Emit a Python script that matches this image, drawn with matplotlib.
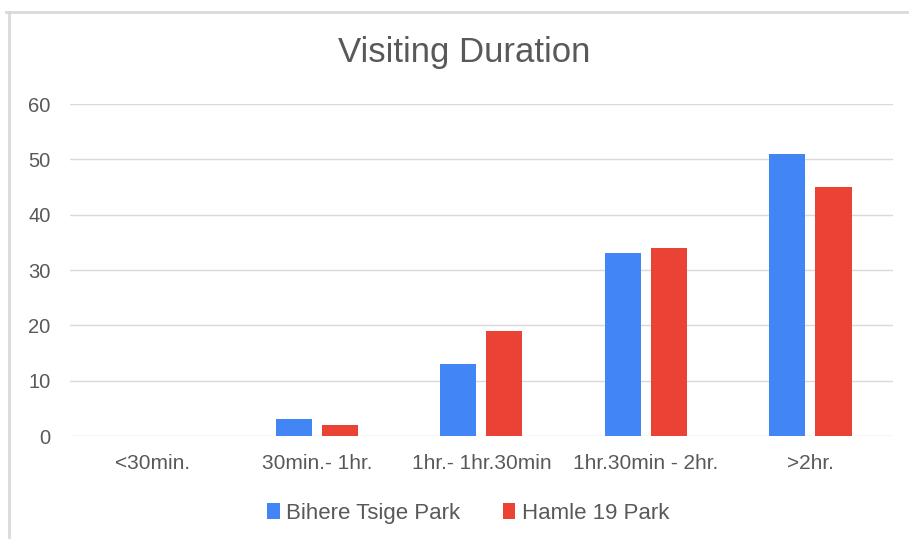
import numpy as np
import matplotlib.pyplot as plt
from matplotlib.lines import Line2D

categories = ['<30min.', '30min.- 1hr.', '1hr.- 1hr.30min', '1hr.30min - 2hr.', '>2hr.']
bihere = [0, 3, 13, 33, 51]
hamle = [0, 2, 19, 34, 45]

plt.rcParams['font.family'] = ['Liberation Sans', 'DejaVu Sans']

fig = plt.figure(figsize=(9.09, 5.39), dpi=100)
ax = fig.add_axes([0.077, 0.191, 0.905, 0.616])

x = np.arange(len(categories))
w = 0.22
ax.bar(x - 0.14, bihere, w, color='#4285F4', label='Bihere Tsige Park', zorder=3)
ax.bar(x + 0.14, hamle, w, color='#EA4335', label='Hamle 19 Park', zorder=3)

ax.set_xlim(-0.5, 4.5)
ax.set_ylim(0, 60)
ax.set_yticks(range(0, 61, 10))
ax.set_xticks(x)
ax.set_xticklabels(categories)
ax.grid(axis='y', color='#d9d9d9', linewidth=1, zorder=0)
for s in ax.spines.values():
    s.set_visible(False)
ax.tick_params(length=0, labelsize=14.5, colors='#595959')
ax.tick_params(axis='x', pad=13, labelsize=15)
ax.tick_params(axis='y', pad=14)

fig.text(0.511, 0.903, 'Visiting Duration', ha='center', va='center',
         fontsize=25, color='#595959')

fig.legend(loc='center', bbox_to_anchor=(0.515, 0.048), ncol=2, frameon=False,
           fontsize=16, handlelength=0.55, handleheight=0.75, handletextpad=0.3,
           columnspacing=1.9, labelcolor='#595959')

# outer frame
fig.add_artist(Line2D([0.007, 1.0], [0.977, 0.977], color='#d9d9d9', linewidth=2))
fig.add_artist(Line2D([0.01, 0.01], [0.0, 0.977], color='#d9d9d9', linewidth=2))

fig.savefig('out.png', dpi=100)
